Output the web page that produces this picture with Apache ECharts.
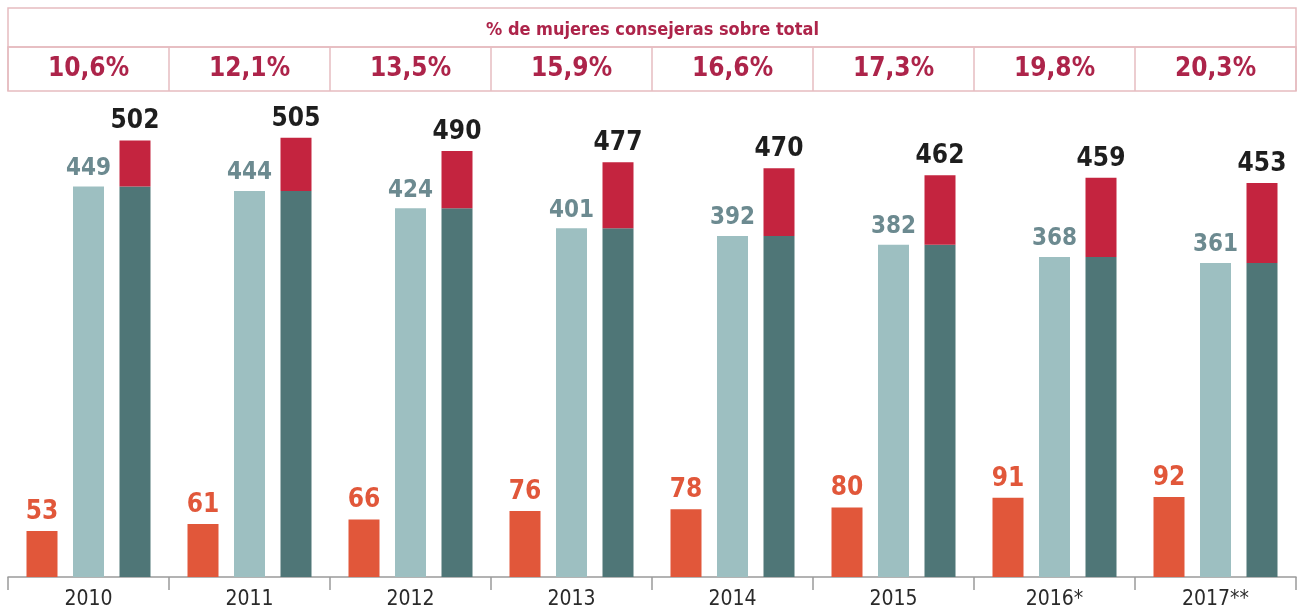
<!DOCTYPE html>
<html>
<head>
<meta charset="utf-8">
<script src="https://cdn.jsdelivr.net/npm/echarts@6/dist/echarts.min.js"></script>
<style>
  html, body { margin: 0; padding: 0; background: #fff; }
  #chart { width: 1305px; height: 612px; }
</style>
</head>
<body>
<div id="chart"></div>
<script>
// data
const years = ["2010", "2011", "2012", "2013", "2014", "2015", "2016*", "2017**"];
const women = [53, 61, 66, 76, 78, 80, 91, 92];
const men = [449, 444, 424, 401, 392, 382, 368, 361];
const totals = [502, 505, 490, 477, 470, 462, 459, 453];
const pctWomen = ["10,6%", "12,1%", "13,5%", "15,9%", "16,6%", "17,3%", "19,8%", "20,3%"];
const header = "% de mujeres consejeras sobre total";

const FONT = '"Liberation Sans Narrow", "DejaVu Sans Condensed", sans-serif';
const BORDER = "#e6bcc0";
const CRIMSON = "#ad244a";

const chart = echarts.init(document.getElementById("chart"));

const option = {
  animation: false,
  title: {
    text: header,
    left: "center",
    top: 16,
    textStyle: { fontFamily: FONT, fontSize: 18, fontWeight: "bold", color: CRIMSON },
  },
  grid: [
    // main bars
    { left: 8, right: 9, top: 90, bottom: 35 },
    // percentage row
    { left: 8, right: 9, top: 47, height: 44, show: true, borderColor: BORDER, borderWidth: 1.5 },
    // header row
    { left: 8, right: 9, top: 8, height: 39, show: true, borderColor: BORDER, borderWidth: 1.5 },
  ],
  xAxis: [
    {
      type: "category",
      gridIndex: 0,
      data: years,
      axisLine: { lineStyle: { color: "#9a9a9a", width: 1.5 } },
      axisTick: { show: true, length: 13, lineStyle: { color: "#9a9a9a", width: 1.5 } },
      axisLabel: { fontFamily: FONT, fontSize: 21, color: "#2a2a2a", margin: 12 },
    },
    {
      type: "category",
      gridIndex: 1,
      data: years,
      axisLine: { show: false },
      axisTick: { show: false },
      axisLabel: { show: false },
      splitLine: { show: true, lineStyle: { color: BORDER, width: 1.5 } },
    },
    {
      type: "category",
      gridIndex: 2,
      data: [""],
      show: false,
    },
  ],
  yAxis: [
    { type: "value", gridIndex: 0, min: 0, max: 560, show: false },
    { type: "value", gridIndex: 1, min: 0, max: 1, show: false },
    { type: "value", gridIndex: 2, min: 0, max: 1, show: false },
  ],
  series: [
    {
      name: "Mujeres",
      type: "bar",
      data: women,
      barWidth: 31,
      barGap: "50%",
      itemStyle: { color: "#e1573a" },
      label: {
        show: true, position: "top", distance: 6,
        fontFamily: FONT, fontSize: 26, fontWeight: "bold", color: "#e1573a",
      },
    },
    {
      name: "Hombres",
      type: "bar",
      data: men,
      barWidth: 31,
      itemStyle: { color: "#9dbfc1" },
      label: {
        show: true, position: "top", distance: 6,
        fontFamily: FONT, fontSize: 24, fontWeight: "bold", color: "#6c8a90",
      },
    },
    {
      name: "Hombres total",
      type: "bar",
      stack: "total",
      data: men,
      barWidth: 31,
      itemStyle: { color: "#4f7677" },
    },
    {
      name: "Mujeres total",
      type: "bar",
      stack: "total",
      data: women,
      barWidth: 31,
      itemStyle: { color: "#c4243f" },
      label: {
        show: true, position: "top", distance: 6,
        fontFamily: FONT, fontSize: 26, fontWeight: "bold", color: "#1e1e1e",
        formatter: (p) => String(totals[p.dataIndex]),
      },
    },
    {
      name: "pct",
      type: "bar",
      xAxisIndex: 1,
      yAxisIndex: 1,
      data: pctWomen.map(() => 1),
      barWidth: "100%",
      itemStyle: { color: "rgba(0,0,0,0)" },
      label: {
        show: true, position: "inside",
        fontFamily: FONT, fontSize: 26, fontWeight: "bold", color: CRIMSON,
        formatter: (p) => pctWomen[p.dataIndex],
      },
    },
  ],
};

chart.setOption(option);
window.addEventListener("resize", () => chart.resize());
</script>
</body>
</html>
